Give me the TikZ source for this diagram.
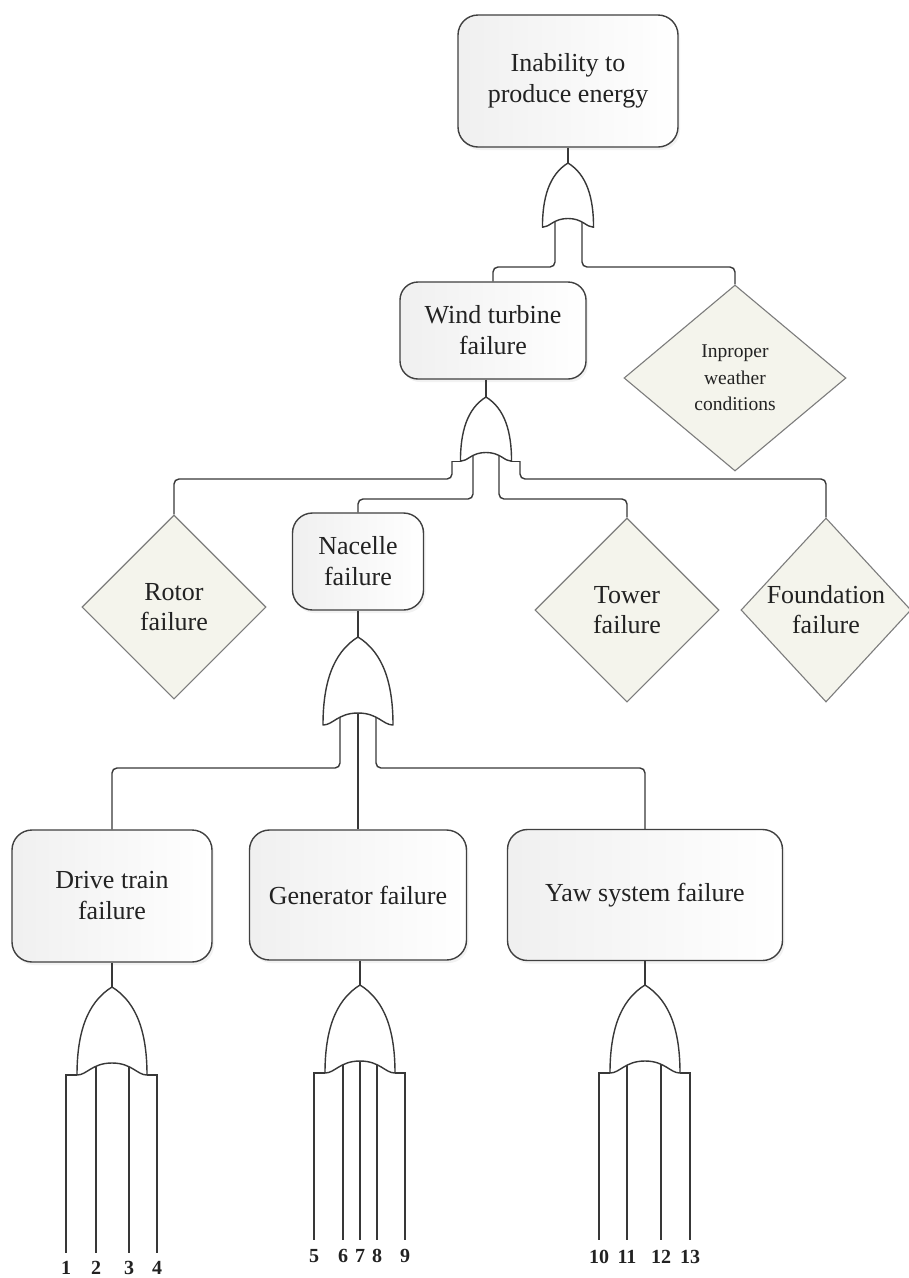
\documentclass[tikz,border=0pt]{standalone}
\usepackage{fontspec}
\setmainfont{Liberation Serif}
\usetikzlibrary{shapes.geometric,shadows,calc}
\definecolor{edgec}{HTML}{383838}
\definecolor{boxline}{HTML}{404040}
\definecolor{dfill}{HTML}{F4F4EC}
\definecolor{dline}{HTML}{7C7C7C}
\definecolor{txt}{HTML}{222222}
\tikzset{
  evbox/.style={rectangle, rounded corners=20pt, draw=boxline, line width=1.4pt,
    left color=black!6, right color=white,
    drop shadow={opacity=0.10, shadow xshift=2pt, shadow yshift=-3pt},
    align=center, text=txt, font=\fontsize{26}{31}\selectfont, inner sep=0pt},
  basic/.style={diamond, draw=dline, line width=1.1pt, fill=dfill, align=center,
    text=txt, font=\fontsize{26}{30}\selectfont, inner sep=0pt},
  wire/.style={draw=edgec, line width=1.4pt, rounded corners=5pt},
  lead/.style={draw=edgec, line width=1.4pt},
  gatestyle/.style={draw=edgec, line width=1.4pt, fill=white, line join=round},
  numlab/.style={font=\bfseries\fontsize{20}{20}\selectfont, text=txt, anchor=north, inner sep=0pt},
}
\newcommand\orgate[3]{%
  \begin{scope}[shift={(#1,#2)},scale=#3]
    \draw[gatestyle] (0,0) .. controls (-26,16) and (-35,48) .. (-35,88)
      .. controls (-25,88) and (-20,76) .. (0,76)
      .. controls (20,76) and (25,88) .. (35,88)
      .. controls (35,48) and (26,16) .. (0,0) -- cycle;
  \end{scope}}
\begin{document}
\begin{tikzpicture}[x=1pt,y=-1pt]
\fill[white] (0,0) rectangle (909,1278);
\useasboundingbox (0,0) rectangle (909,1278);

% events
\node[evbox, minimum width=220pt, minimum height=132pt] (top) at (568,81) {Inability to\\produce energy};
\node[evbox, rounded corners=18pt, minimum width=186pt, minimum height=97pt] (wt) at (493,330.5) {Wind turbine\\failure};
\node[evbox, minimum width=131pt, minimum height=97pt] (nacelle) at (358,561.5) {Nacelle\\failure};
\node[evbox, minimum width=200pt, minimum height=132pt] (dt) at (112,896) {Drive train\\failure};
\node[evbox, minimum width=217pt, minimum height=130pt] (gen) at (358,895) {Generator failure};
\node[evbox, minimum width=275pt, minimum height=131pt] (yaw) at (645,895) {Yaw system failure};

% basic events
\node[basic, minimum width=222pt, minimum height=186pt, font=\fontsize{19.5}{26.5}\selectfont] (weather) at (735,378) {Inproper\\weather\\conditions};
\node[basic, minimum width=184pt, minimum height=184pt] (rotor) at (174,607) {Rotor\\failure};
\node[basic, minimum width=184pt, minimum height=184pt] (tower) at (627,610) {Tower\\failure};
\node[basic, minimum width=170pt, minimum height=184pt] (found) at (826,610) {Foundation\\failure};

% gate apex coordinates
\coordinate (g1) at (568,163);
\coordinate (gWT) at (486,397);
\coordinate (gN) at (358,637);
\coordinate (gDT) at (112,987);
\coordinate (gG) at (360,985);
\coordinate (gY) at (645,985);

% line ends
\coordinate (e1) at (66,1253);
\coordinate (e2) at (96,1253);
\coordinate (e3) at (129,1253);
\coordinate (e4) at (157,1253);
\coordinate (e5) at (314,1240);
\coordinate (e6) at (343,1240);
\coordinate (e7) at (360,1240);
\coordinate (e8) at (377,1240);
\coordinate (e9) at (405,1240);
\coordinate (e10) at (599,1240);
\coordinate (e11) at (627,1240);
\coordinate (e12) at (661,1240);
\coordinate (e13) at (690,1240);

% gate 1
\draw[wire] (top.south -| g1) -- (g1);
\draw[wire] ($(g1)+(-13,50)$) -- ($(g1)+(-13,104)$) -| (wt.north);
\draw[wire] ($(g1)+(14,50)$) -- ($(g1)+(14,104)$) -| (weather.north);
\orgate{568}{163}{0.73}

% wind turbine gate
\draw[wire] (wt.south -| gWT) -- (gWT);
\draw[lead] ($(gWT)+(-25.5,64.2)$) -- ($(gWT)+(-34,64.2)$);
\draw[wire] ($(gWT)+(-34,64.2)$) -- ($(gWT)+(-34,82)$) -| (rotor.north);
\draw[wire] ($(gWT)+(-13,50)$) -- ($(gWT)+(-13,102)$) -| (nacelle.north);
\draw[wire] ($(gWT)+(13,50)$) -- ($(gWT)+(13,102)$) -| (tower.north);
\draw[lead] ($(gWT)+(25.5,64.2)$) -- ($(gWT)+(34,64.2)$);
\draw[wire] ($(gWT)+(34,64.2)$) -- ($(gWT)+(34,82)$) -| (found.north);
\orgate{486}{397}{0.73}

% nacelle gate
\draw[wire] (nacelle.south -| gN) -- (gN);
\draw[wire] ($(gN)+(-18,70)$) -- ($(gN)+(-18,131)$) -| (dt.north);
\draw[wire] ($(gN)+(0,70)$) -- (gen.north -| gN);
\draw[wire] ($(gN)+(18,70)$) -- ($(gN)+(18,131)$) -| (yaw.north);
\orgate{358}{637}{1}

% drive train gate
\draw[wire] (dt.south -| gDT) -- (gDT);
\draw[lead] ($(gDT)+(-35,88)$) -- ($(gDT)+(-46,88)$) -- (e1);
\draw[lead] ($(gDT)+(-16,70)$) -- (e2);
\draw[lead] ($(gDT)+(17,70)$) -- (e3);
\draw[lead] ($(gDT)+(35,88)$) -- ($(gDT)+(45,88)$) -- (e4);
\orgate{112}{987}{1}

% generator gate
\draw[wire] (gen.south -| gG) -- (gG);
\draw[lead] ($(gG)+(-35,88)$) -- ($(gG)+(-46,88)$) -- (e5);
\draw[lead] ($(gG)+(-17,70)$) -- (e6);
\draw[lead] ($(gG)+(0,70)$) -- (e7);
\draw[lead] ($(gG)+(17,70)$) -- (e8);
\draw[lead] ($(gG)+(35,88)$) -- ($(gG)+(45,88)$) -- (e9);
\orgate{360}{985}{1}

% yaw gate
\draw[wire] (yaw.south -| gY) -- (gY);
\draw[lead] ($(gY)+(-35,88)$) -- ($(gY)+(-46,88)$) -- (e10);
\draw[lead] ($(gY)+(-18,70)$) -- (e11);
\draw[lead] ($(gY)+(16,70)$) -- (e12);
\draw[lead] ($(gY)+(35,88)$) -- ($(gY)+(45,88)$) -- (e13);
\orgate{645}{985}{1}

% labels
\node[numlab] (n1) at ($(e1)+(0,8)$) {1};
\node[numlab] (n2) at ($(e2)+(0,8)$) {2};
\node[numlab] (n3) at ($(e3)+(0,8)$) {3};
\node[numlab] (n4) at ($(e4)+(0,8)$) {4};
\node[numlab] (n5) at ($(e5)+(0,9)$) {5};
\node[numlab] (n6) at ($(e6)+(0,9)$) {6};
\node[numlab] (n7) at ($(e7)+(0,9)$) {7};
\node[numlab] (n8) at ($(e8)+(0,9)$) {8};
\node[numlab] (n9) at ($(e9)+(0,9)$) {9};
\node[numlab] (n10) at ($(e10)+(0,10)$) {10};
\node[numlab] (n11) at ($(e11)+(0,10)$) {11};
\node[numlab] (n12) at ($(e12)+(0,10)$) {12};
\node[numlab] (n13) at ($(e13)+(0,10)$) {13};
\end{tikzpicture}
\end{document}
